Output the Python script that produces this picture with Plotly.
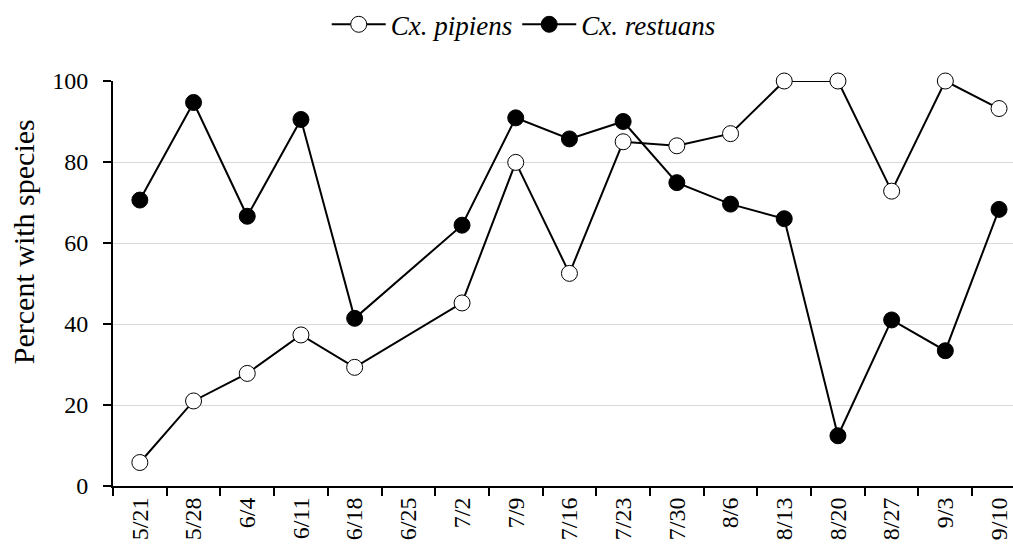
import plotly.graph_objects as go

dates = ["5/21", "5/28", "6/4", "6/11", "6/18", "6/25", "7/2", "7/9", "7/16",
         "7/23", "7/30", "8/6", "8/13", "8/20", "8/27", "9/3", "9/10"]
pipiens = [5.8, 21.0, 27.8, 37.3, 29.3, None, 45.2, 79.9, 52.5,
           85.0, 84.0, 87.0, 100, 100, 72.8, 100, 93.2]
restuans = [70.6, 94.7, 66.6, 90.5, 41.4, None, 64.4, 90.9, 85.7,
            90.0, 74.9, 69.6, 66.0, 12.4, 41.0, 33.4, 68.3]
y_ticks = [0, 20, 40, 60, 80, 100]

FONT = "Liberation Serif, Times New Roman, serif"

fig = go.Figure()
fig.add_trace(go.Scatter(
    x=dates, y=pipiens, name="<i>Cx. pipiens</i>", mode="lines+markers",
    connectgaps=True, cliponaxis=False,
    line=dict(color="black", width=2),
    marker=dict(symbol="circle", size=16, color="white",
                line=dict(color="black", width=1)),
))
fig.add_trace(go.Scatter(
    x=dates, y=restuans, name="<i>Cx. restuans</i>", mode="lines+markers",
    connectgaps=True, cliponaxis=False,
    line=dict(color="black", width=2),
    marker=dict(symbol="circle", size=16, color="black",
                line=dict(color="black", width=1)),
))

fig.update_layout(
    width=1013, height=550,
    margin=dict(l=113, r=0, t=81, b=64),
    paper_bgcolor="white", plot_bgcolor="white",
    font=dict(family=FONT, color="black", size=22),
    showlegend=True,
    legend=dict(orientation="h", xref="container", yref="container",
                x=0.517, xanchor="center", y=0.955, yanchor="middle",
                itemwidth=54, tracegroupgap=0,
                font=dict(family=FONT, size=27, color="black"),
                bgcolor="rgba(0,0,0,0)"),
    xaxis=dict(
        type="category", categoryorder="array", categoryarray=dates,
        range=[-0.5, 16.26], tickson="boundaries",
        ticks="outside", ticklen=8, tickwidth=2, tickcolor="black",
        showline=True, linecolor="black", linewidth=2,
        showgrid=False, tickangle=-90,
        tickfont=dict(family=FONT, size=24, color="black"),
        automargin=False,
    ),
    yaxis=dict(
        range=[0, 100], tickvals=y_ticks,
        ticks="outside", ticklen=8, tickwidth=2, tickcolor="black",
        showline=True, linecolor="black", linewidth=2,
        showgrid=True, gridcolor="#d9d9d9", gridwidth=1,
        zeroline=False, ticklabelstandoff=10,
        tickfont=dict(family=FONT, size=24, color="black"),
        automargin=False,
    ),
    annotations=[dict(
        text="Percent with species", textangle=-90,
        xref="paper", yref="paper", x=-0.1, y=0.602,
        xanchor="center", yanchor="middle", showarrow=False,
        font=dict(family=FONT, size=30, color="black"),
    )],
)

fig.write_html(
    "out.html",
    config={"displayModeBar": False},
    post_script="document.body.style.margin='0';document.body.style.overflow='hidden';",
)
